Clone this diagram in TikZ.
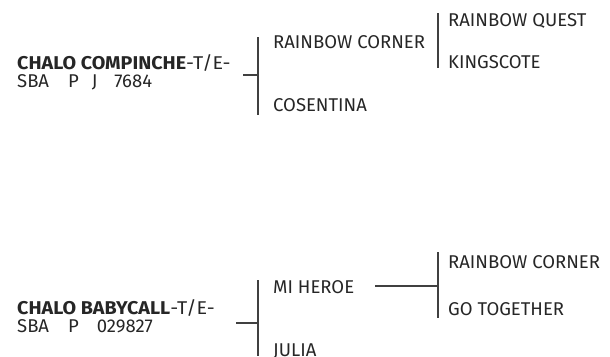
\documentclass[tikz,border=0pt]{standalone}
\usepackage{fontspec}
\usepackage{graphicx}
\setmainfont{Fira Sans}
\begin{document}
\begin{tikzpicture}[x=1pt,y=-1pt,
  lbl/.style={anchor=base west,inner sep=0pt,font=\fontsize{18.5}{18}\selectfont,text=black!85},
  ln/.style={draw=black!75,line width=1.2pt}]
\useasboundingbox (0,0) rectangle (610,356);
% top group
\node[lbl] (h1a) at (17,69) {\scalebox{1.065}[1]{\textbf{CHALO COMPINCHE}-T/E-}};
\node[lbl] (h1b) at (17,87) {SBA\hspace{19pt}P\hspace{13pt}J\hspace{17pt}7684};
\node[lbl] (s1) at (273,48) {RAINBOW CORNER};
\node[lbl] (d1) at (273,111) {COSENTINA};
\node[lbl] (s1s) at (448,27) {RAINBOW QUEST};
\node[lbl] (s1d) at (448,68) {KINGSCOTE};
\coordinate (t1) at (243,75);
\coordinate (b1) at (258,75);
\coordinate (b1t) at (258,37);
\coordinate (b1b) at (258,115);
\coordinate (c1t) at (438,13);
\coordinate (c1b) at (438,68);
\draw[ln] (t1) -- (b1);
\draw[ln] (b1t) -- (b1b);
\draw[ln] (c1t) -- (c1b);
% bottom group
\node[lbl] (h2a) at (17,314) {\scalebox{1.065}[1]{\textbf{CHALO BABYCALL}-T/E-}};
\node[lbl] (h2b) at (17,332) {SBA\hspace{19pt}P\hspace{18pt}029827};
\node[lbl] (s2) at (273,293) {MI HEROE};
\node[lbl] (d2) at (273,356) {JULIA};
\node[lbl] (s2s) at (448,268) {RAINBOW CORNER};
\node[lbl] (s2d) at (448,315) {GO TOGETHER};
\coordinate (t2) at (236,323);
\coordinate (b2) at (258,323);
\coordinate (b2t) at (258,280);
\coordinate (b2b) at (258,356);
\coordinate (m2) at (375,286);
\coordinate (c2) at (438,286);
\coordinate (c2t) at (438,252);
\coordinate (c2b) at (438,318);
\draw[ln] (t2) -- (b2);
\draw[ln] (b2t) -- (b2b);
\draw[ln] (m2) -- (c2);
\draw[ln] (c2t) -- (c2b);
\end{tikzpicture}
\end{document}
